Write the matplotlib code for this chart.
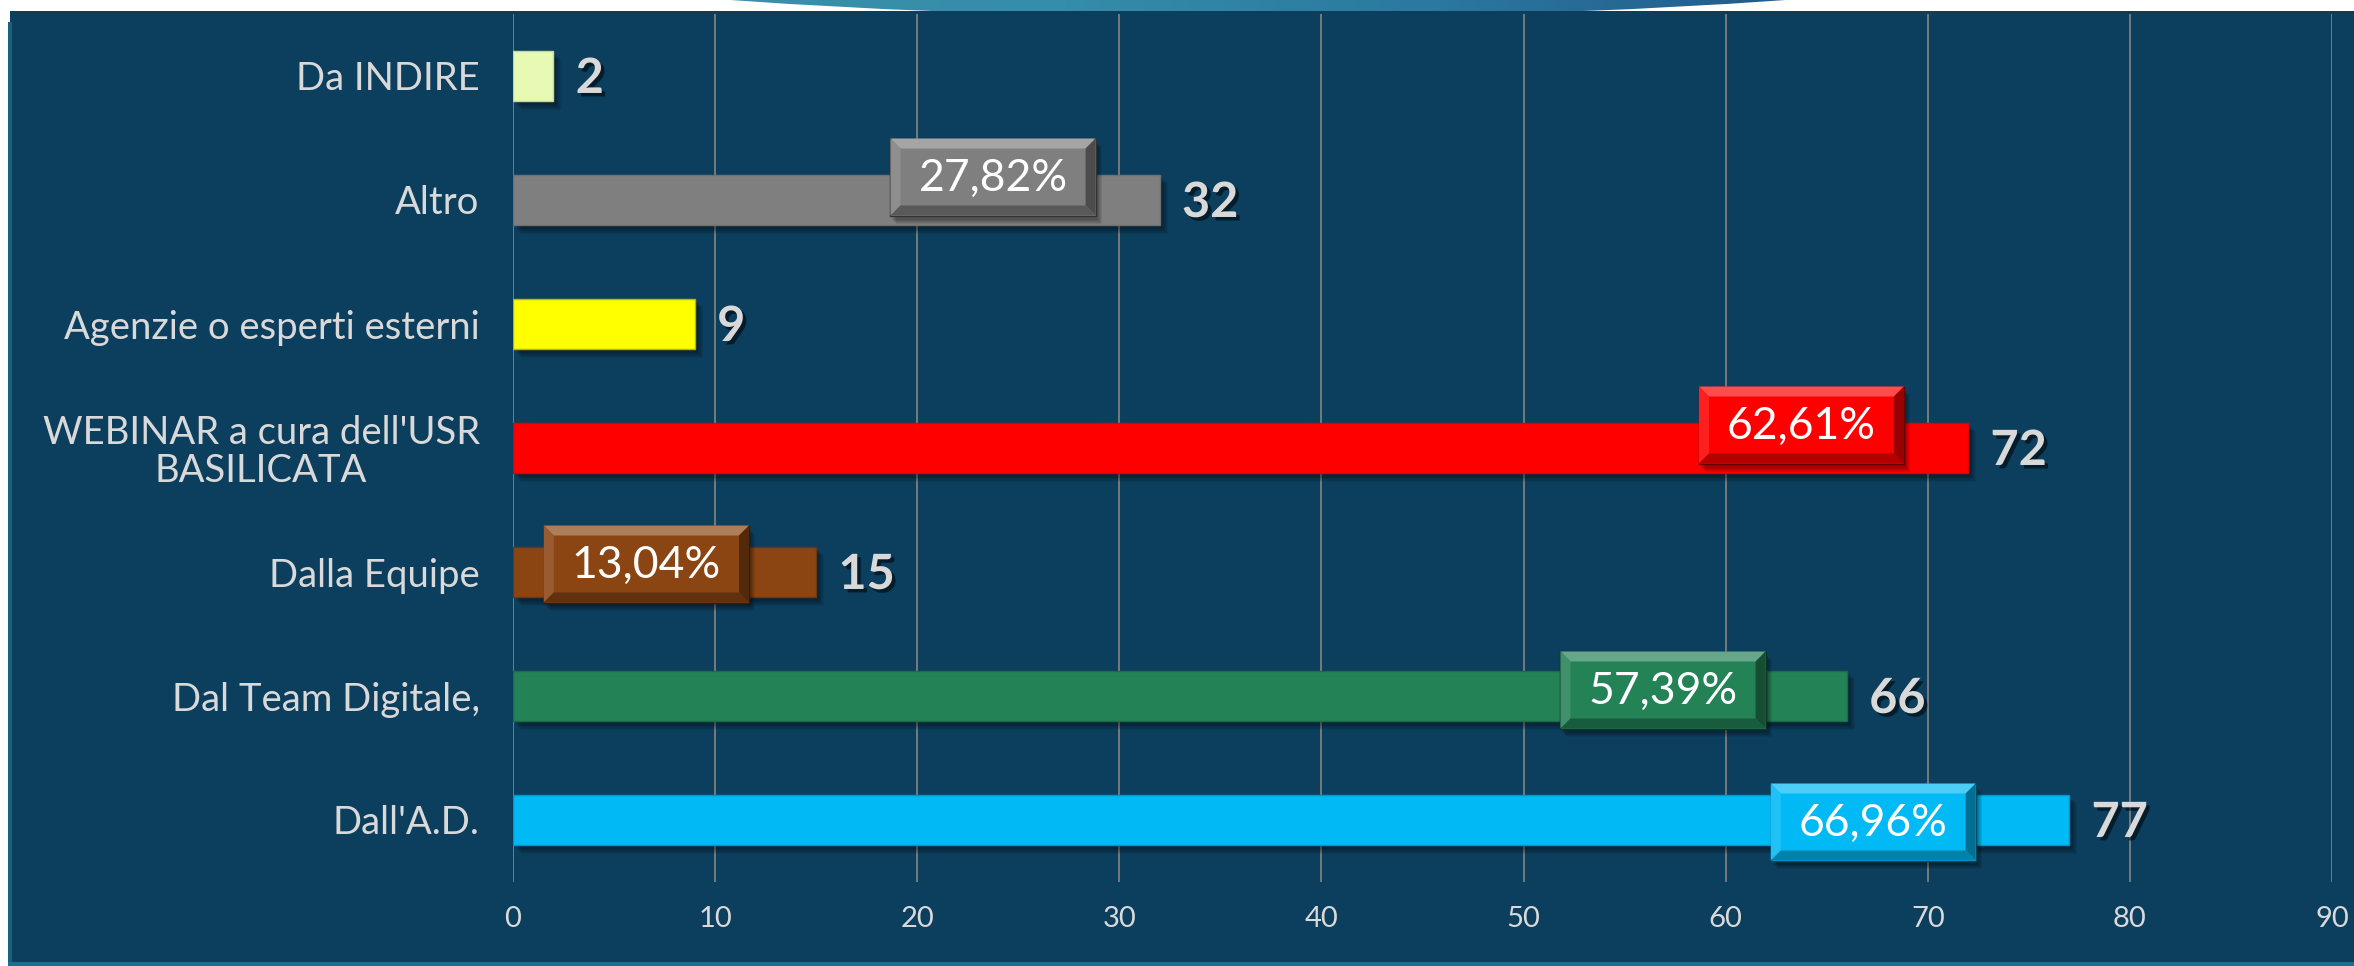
import matplotlib
matplotlib.use("Agg")
import matplotlib.pyplot as plt
import matplotlib.patheffects as pe
from matplotlib.patches import Rectangle, Polygon, Ellipse
from matplotlib.colors import to_rgb
import numpy as np

# dati del grafico (dall'alto verso il basso)
categorie = ["Da INDIRE", "Altro", "Agenzie o esperti esterni",
             "WEBINAR a cura dell'USR\nBASILICATA", "Dalla Equipe",
             "Dal Team Digitale,", "Dall'A.D."]
valori = [2, 32, 9, 72, 15, 66, 77]
colori = ["#E6FAB4", "#7F7F7F", "#FFFF00", "#FF0000", "#8B4513", "#248257", "#00B9F5"]

# etichette percentuali (indice categoria, testo)
perc_idx = [1, 3, 4, 5, 6]
perc_txt = ["27,82%", "62,61%", "13,04%", "57,39%", "66,96%"]
# posizione delle etichette (x in unità dati, spostamento verticale in px)
perc_x = [23.75, 63.75, 6.6, 56.9, 67.3]
perc_dy = [-23, -23, -8, -6, 2]

W, H = 2354, 966
SFONDO = "#0C3F5E"
TESTO = "#D9D9D9"
FONT = "Lato"

fig = plt.figure(figsize=(W / 100, H / 100), dpi=100, facecolor="white")

# livello di sfondo in coordinate pixel
bg = fig.add_axes([0, 0, 1, 1], zorder=0)
bg.set_xlim(0, W)
bg.set_ylim(H, 0)
bg.axis("off")

# decorazione a ellisse in alto
ell = Ellipse((1258, -125), 2200, 285, transform=bg.transData, facecolor="none", edgecolor="none")
bg.add_patch(ell)
grad = np.linspace(0, 1, 256)
cmap = matplotlib.colors.LinearSegmentedColormap.from_list(
    "g", ["#3A90AA", "#348DA9", "#2B78A0", "#22598A"])
im = bg.imshow(grad[None, :], extent=(690, 1810, 20, 0), cmap=cmap, aspect="auto", zorder=1)
im.set_clip_path(ell)

# pannello blu
bg.add_patch(Rectangle((10, 11), W - 10, H - 11, facecolor=SFONDO, edgecolor="none", zorder=2))
bg.add_patch(Rectangle((8, 22), 4, H - 22, facecolor="#16627F", edgecolor="none", zorder=3))
bg.add_patch(Rectangle((8, H - 4), W - 8, 4, facecolor="#16708F", edgecolor="none", zorder=3))

# grafico principale
ax = fig.add_axes([513 / W, 1 - 882 / H, (2332 - 513) / W, 868 / H], zorder=1)
ax.set_facecolor("none")
y = np.arange(len(categorie))
h = 0.41

# ombre delle barre
for k in range(6):
    ax.barh(y + 0.03 + k * 0.008, valori, height=h, left=0.15 + k * 0.05,
            color="black", alpha=0.07, zorder=2)
ax.barh(y, valori, height=h, color=colori, edgecolor=[
    "#C9D99A", "#707070", "#B8B800", "#E00000", "#6E360F", "#1D6B47", "#0096C8"],
    linewidth=1, zorder=3)

for yi, v in zip(y, valori):
    ax.text(v + 1.1, yi + 0.02, str(v), ha="left", va="center", fontsize=35,
            fontweight="bold", family=FONT, color=TESTO, zorder=5,
            path_effects=[pe.withSimplePatchShadow(offset=(2.5, -2.5), shadow_rgbFace="black", alpha=0.55)])

ax.set_xlim(0, 90)
ax.set_ylim(len(categorie) - 0.5, -0.5)
ax.set_xticks(np.arange(0, 91, 10))
ax.set_yticks(y)
ax.set_yticklabels(categorie)
ax.grid(axis="x", color="#7F7F7F", linewidth=1.3, zorder=1)
ax.set_axisbelow(True)
for s in ax.spines.values():
    s.set_visible(False)
ax.tick_params(axis="x", length=0, pad=17, labelsize=21, labelcolor=TESTO)
ax.tick_params(axis="y", length=0, pad=24, labelsize=27.5, labelcolor=TESTO)
for lab in ax.get_xticklabels() + ax.get_yticklabels():
    lab.set_family(FONT)
for lab in ax.get_yticklabels():
    lab.set_multialignment("center")
    lab.set_linespacing(1.05)

# livello superiore per le etichette percentuali a rilievo
fg = fig.add_axes([0, 0, 1, 1], zorder=2)
fg.set_xlim(0, W)
fg.set_ylim(H, 0)
fg.axis("off")
fg.patch.set_alpha(0)

fig.canvas.draw()
renderer = fig.canvas.get_renderer()


def mix(c, other, t):
    c = np.array(to_rgb(c))
    o = np.array(to_rgb(other))
    return tuple(c * (1 - t) + o * t)


for i, txt, xd, dy in zip(perc_idx, perc_txt, perc_x, perc_dy):
    px, py = ax.transData.transform((xd, y[i]))
    cx, cy = px, H - py + dy
    t = fg.text(cx, cy + 1, txt, ha="center", va="center", fontsize=32,
                family=FONT, color="white", zorder=10)
    bb = t.get_window_extent(renderer)
    bw = bb.width + 56
    bh = 77
    x0, x1 = cx - bw / 2, cx + bw / 2
    y0, y1 = cy - bh / 2, cy + bh / 2
    b = 10
    base = colori[i]
    # ombra
    for k in range(5):
        fg.add_patch(Rectangle((x0 + 2 + k, y0 + 4 + k), bw, bh, facecolor="black",
                               alpha=0.08, edgecolor="none", zorder=5))
    fg.add_patch(Rectangle((x0, y0), bw, bh, facecolor=base, edgecolor=mix(base, "black", 0.6),
                           linewidth=1, zorder=6))
    fg.add_patch(Polygon([(x0, y0), (x1, y0), (x1 - b, y0 + b), (x0 + b, y0 + b)],
                         facecolor=mix(base, "white", 0.3), edgecolor="none", zorder=7))
    fg.add_patch(Polygon([(x0, y0), (x0 + b, y0 + b), (x0 + b, y1 - b), (x0, y1)],
                         facecolor=mix(base, "white", 0.12), edgecolor="none", zorder=7))
    fg.add_patch(Polygon([(x1, y0), (x1, y1), (x1 - b, y1 - b), (x1 - b, y0 + b)],
                         facecolor=mix(base, "black", 0.4), edgecolor="none", zorder=7))
    fg.add_patch(Polygon([(x0, y1), (x1, y1), (x1 - b, y1 - b), (x0 + b, y1 - b)],
                         facecolor=mix(base, "black", 0.3), edgecolor="none", zorder=7))

fig.savefig("out.png", dpi=100, facecolor="white")
